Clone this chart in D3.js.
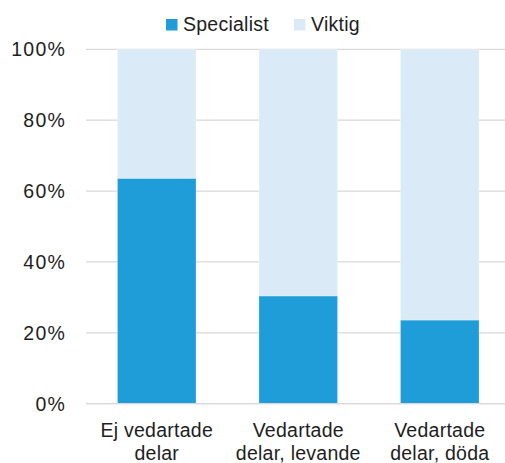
<!DOCTYPE html>
<html><head><meta charset="utf-8">
<script src="https://cdn.jsdelivr.net/npm/d3@7"></script>
<style>body{margin:0;background:#fff}svg{display:block}text{font-family:"Liberation Sans",Arial,sans-serif;fill:#1e1e1e;letter-spacing:0.25px}</style>
</head><body>
<script>
const categories = [["Ej vedartade","delar"],["Vedartade","delar, levande"],["Vedartade","delar, döda"]];
const seriesNames = ["Specialist","Viktig"];
const specialist = [0.636, 0.304, 0.236];
const viktig = [0.364, 0.696, 0.764];
const yTicks = [0,0.2,0.4,0.6,0.8,1.0];
const colors = ["#1e9dd8","#daebf7"];

const W=505,H=463;
const svg=d3.select("body").append("svg").attr("width",W).attr("height",H);
const x=d3.scaleBand().domain(d3.range(categories.length)).range([86,510.5]).paddingInner(0.445).paddingOuter(0.2225);
const y=d3.scaleLinear().domain([0,1]).range([403.7,49.3]);
const fs=19.5;

// gridlines
svg.append("g").selectAll("line").data(yTicks).join("line")
 .attr("x1",86).attr("x2",505).attr("y1",d=>y(d)).attr("y2",d=>y(d))
 .attr("stroke","#d9d9d9").attr("stroke-width",1.2);
// y labels
svg.append("g").selectAll("text").data(yTicks).join("text")
 .attr("x",66).attr("y",d=>y(d)+7).attr("text-anchor","end").attr("font-size",fs)
 .style("letter-spacing","1.2px")
 .text(d=>d3.format(".0%")(d));

const stack=d3.stack().keys([0,1]).value((d,k)=>k===0?specialist[d]:viktig[d])(d3.range(categories.length));
svg.append("g").selectAll("g").data(stack).join("g").attr("fill",(d,i)=>colors[i])
 .selectAll("rect").data(d=>d.map((v,i)=>({v,i}))).join("rect")
 .attr("x",d=>x(d.i)).attr("width",x.bandwidth())
 .attr("y",d=>y(d.v[1])).attr("height",d=>y(d.v[0])-y(d.v[1]))
 .attr("stroke","#ffffff").attr("stroke-opacity",0.25).attr("stroke-width",1);

// baseline
svg.append("line").attr("x1",86).attr("x2",505).attr("y1",y(0)).attr("y2",y(0)).attr("stroke","#d9d9d9").attr("stroke-width",1.2);

// x labels
const xl=svg.append("g").selectAll("text").data(categories).join("text")
 .attr("text-anchor","middle").attr("font-size",fs)
 .attr("transform",(d,i)=>`translate(${x(i)+x.bandwidth()/2},0)`);
xl.selectAll("tspan").data(d=>d).join("tspan").attr("x",0).attr("y",(d,j)=>436.5+j*23.5).text(d=>d);

// legend
const legX=[166,294];
const lg=svg.append("g").selectAll("g").data(seriesNames).join("g").attr("transform",(d,i)=>`translate(${legX[i]},0)`);
lg.append("rect").attr("x",0).attr("y",19).attr("width",11.5).attr("height",11.5).attr("fill",(d,i)=>colors[i]);
lg.append("text").attr("x",17).attr("y",30.5).attr("font-size",fs).text(d=>d);
</script>
</body></html>
